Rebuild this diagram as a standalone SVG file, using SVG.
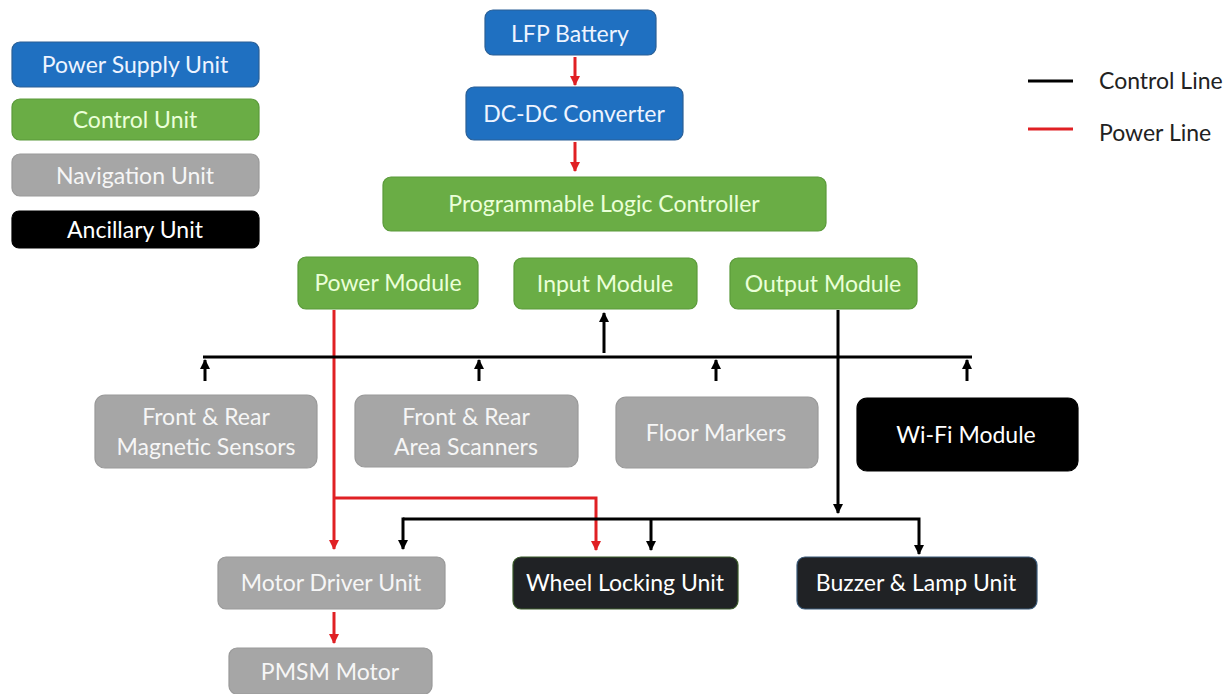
<svg xmlns="http://www.w3.org/2000/svg" width="1230" height="694" viewBox="0 0 1230 694">
  <defs>
    <style>
      .box { stroke-width: 1.2; }
      .psu { fill: #1f70c1; stroke: #2a5f96; }
      .ctl { fill: #6aad45; stroke: #5a9a3a; }
      .nav { fill: #a6a6a6; stroke: #999; }
      .anc { fill: #000; stroke: #000; }
      .anc2 { fill: #202225; }
      text { font-family: Lato, "Open Sans", "Liberation Sans", sans-serif; font-size: 23px; text-anchor: middle; dominant-baseline: central; }
      .tpsu { fill: #eef4ff; }
      .tctl { fill: #eaffd8; }
      .tnav { fill: #f6f6f6; }
      .tanc { fill: #ffffff; }
      .leg { fill: #222; text-anchor: start; font-size: 23px; }
      .cl { stroke: #000; stroke-width: 3; fill: none; }
      .pl { stroke: #e02024; stroke-width: 3; fill: none; }
    </style>
    <marker id="ah-k" viewBox="0 0 10 10" refX="9" refY="5" markerWidth="3.6" markerHeight="3.4" orient="auto" markerUnits="strokeWidth">
      <path d="M0,0 L10,5 L0,10 z" fill="#000"/>
    </marker>
    <marker id="ah-r" viewBox="0 0 10 10" refX="9" refY="5" markerWidth="3.6" markerHeight="3.4" orient="auto" markerUnits="strokeWidth">
      <path d="M0,0 L10,5 L0,10 z" fill="#e02024"/>
    </marker>
  </defs>
  <rect width="1230" height="694" fill="#fff"/>

  <!-- legend: unit colours -->
  <g id="legend-units">
    <g id="leg-psu"><rect class="box psu" x="12" y="42" width="247" height="45" rx="8"/><text class="tpsu" x="135" y="64">Power Supply Unit</text></g>
    <g id="leg-ctl"><rect class="box ctl" x="12" y="99" width="247" height="41" rx="8"/><text class="tctl" x="135" y="119">Control Unit</text></g>
    <g id="leg-nav"><rect class="box nav" x="12" y="154" width="247" height="42" rx="8"/><text class="tnav" x="135" y="175">Navigation Unit</text></g>
    <g id="leg-anc"><rect class="box anc" x="12" y="211" width="247" height="37" rx="7"/><text class="tanc" x="135" y="229">Ancillary Unit</text></g>
  </g>

  <!-- legend: line types -->
  <g id="legend-lines">
    <line x1="1028" y1="81" x2="1073" y2="81" stroke="#000" stroke-width="3"/>
    <text class="leg" x="1099" y="80">Control Line</text>
    <line x1="1028" y1="129" x2="1073" y2="129" stroke="#e02024" stroke-width="3"/>
    <text class="leg" x="1099" y="132">Power Line</text>
  </g>

  <!-- connectors -->
  <g id="connectors">
    <!-- power chain -->
    <line class="pl" x1="575" y1="57" x2="575" y2="85" marker-end="url(#ah-r)"/>
    <line class="pl" x1="575" y1="142" x2="575" y2="171" marker-end="url(#ah-r)"/>
    <!-- power module feed -->
    <polyline class="pl" points="334,310 334,549" marker-end="url(#ah-r)"/>
    <polyline class="pl" points="334,498 596,498 596,550" marker-end="url(#ah-r)"/>
    <line class="pl" x1="334" y1="612" x2="334" y2="643" marker-end="url(#ah-r)"/>
    <!-- input bus -->
    <line class="cl" x1="203" y1="357" x2="972" y2="357"/>
    <line class="cl" x1="604" y1="353" x2="604" y2="313" marker-end="url(#ah-k)"/>
    <line class="cl" x1="205" y1="381" x2="205" y2="360" marker-end="url(#ah-k)"/>
    <line class="cl" x1="479" y1="381" x2="479" y2="360" marker-end="url(#ah-k)"/>
    <line class="cl" x1="716" y1="381" x2="716" y2="360" marker-end="url(#ah-k)"/>
    <line class="cl" x1="967" y1="381" x2="967" y2="360" marker-end="url(#ah-k)"/>
    <!-- output bus -->
    <line class="cl" x1="838" y1="310" x2="838" y2="513" marker-end="url(#ah-k)"/>
    <polyline class="cl" points="403,519 919,519 919,554" marker-end="url(#ah-k)"/>
    <line class="cl" x1="403" y1="517.5" x2="403" y2="549" marker-end="url(#ah-k)"/>
    <line class="cl" x1="651" y1="519" x2="651" y2="550" marker-end="url(#ah-k)"/>
  </g>

  <!-- power supply -->
  <g id="lfp-battery"><rect class="box psu" x="485" y="10" width="171" height="45" rx="8"/><text class="tpsu" x="570" y="33">LFP Battery</text></g>
  <g id="dcdc-converter"><rect class="box psu" x="466" y="87" width="217" height="53" rx="8"/><text class="tpsu" x="574" y="113">DC-DC Converter</text></g>

  <!-- control -->
  <g id="plc"><rect class="box ctl" x="383" y="177" width="443" height="54" rx="8"/><text class="tctl" x="604" y="203">Programmable Logic Controller</text></g>
  <g id="power-module"><rect class="box ctl" x="298" y="257" width="180" height="52" rx="8"/><text class="tctl" x="388" y="282">Power Module</text></g>
  <g id="input-module"><rect class="box ctl" x="514" y="258" width="183" height="51" rx="8"/><text class="tctl" x="605" y="283">Input Module</text></g>
  <g id="output-module"><rect class="box ctl" x="730" y="258" width="187" height="51" rx="8"/><text class="tctl" x="823" y="283">Output Module</text></g>

  <!-- navigation -->
  <g id="magnetic-sensors"><rect class="box nav" x="95" y="395" width="222" height="73" rx="10"/><text class="tnav" x="206" y="416">Front &amp; Rear</text><text class="tnav" x="206" y="446">Magnetic Sensors</text></g>
  <g id="area-scanners"><rect class="box nav" x="355" y="395" width="223" height="72" rx="10"/><text class="tnav" x="466" y="416">Front &amp; Rear</text><text class="tnav" x="466" y="446">Area Scanners</text></g>
  <g id="floor-markers"><rect class="box nav" x="616" y="397" width="202" height="71" rx="10"/><text class="tnav" x="716" y="432">Floor Markers</text></g>
  <g id="motor-driver"><rect class="box nav" x="218" y="557" width="227" height="52" rx="8"/><text class="tnav" x="331" y="582">Motor Driver Unit</text></g>
  <g id="pmsm-motor"><rect class="box nav" x="229" y="648" width="203" height="46" rx="8"/><text class="tnav" x="330" y="671">PMSM Motor</text></g>

  <!-- ancillary -->
  <g id="wifi-module"><rect class="box anc" x="857" y="398" width="221" height="73" rx="10"/><text class="tanc" x="966" y="434">Wi-Fi Module</text></g>
  <g id="wheel-locking"><rect class="anc2" x="513" y="557" width="225" height="52" rx="8" stroke="#3a5a2a" stroke-width="1.2"/><text class="tanc" x="625" y="582">Wheel Locking Unit</text></g>
  <g id="buzzer-lamp"><rect class="anc2" x="797" y="557" width="240" height="52" rx="8" stroke="#3a5a7a" stroke-width="1.2"/><text class="tanc" x="916" y="582">Buzzer &amp; Lamp Unit</text></g>
</svg>
